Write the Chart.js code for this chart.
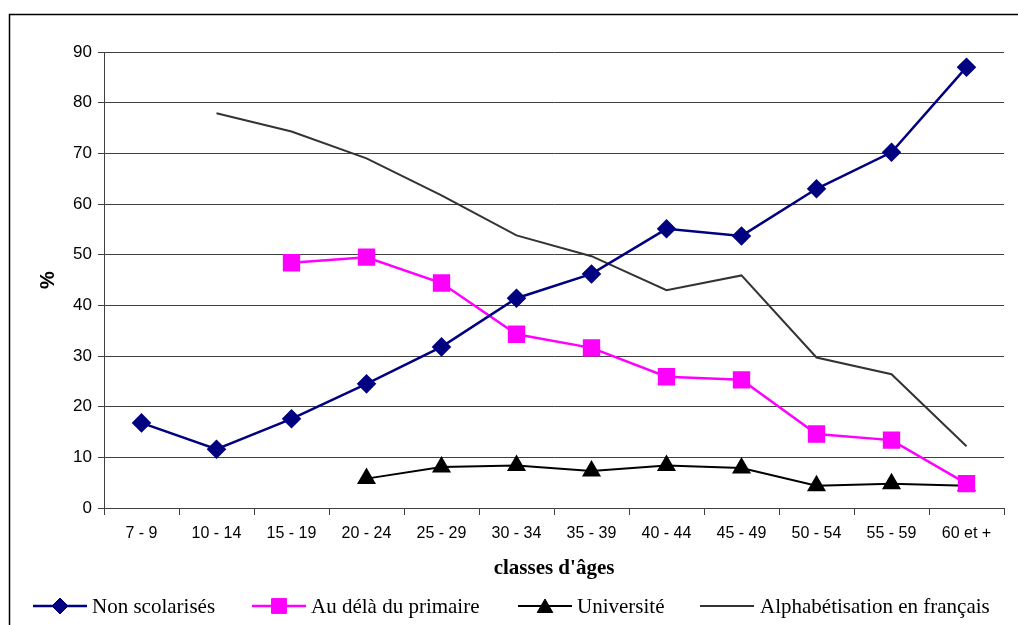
<!DOCTYPE html>
<html>
<head>
<meta charset="utf-8">
<script src="https://cdn.jsdelivr.net/npm/chart.js@4/dist/chart.umd.min.js"></script>
<style>
  body { margin: 0; background: #fff; }
  canvas { display: block; }
</style>
</head>
<body>
<canvas id="chart" width="1018" height="625"></canvas>
<script>
const ageClasses = ['7 - 9', '10 - 14', '15 - 19', '20 - 24', '25 - 29', '30 - 34', '35 - 39', '40 - 44', '45 - 49', '50 - 54', '55 - 59', '60 et +'];

const nonScolarises = [16.8, 11.6, 17.6, 24.5, 31.8, 41.4, 46.2, 55.1, 53.7, 63.0, 70.2, 87.0];
const auDelaPrimaire = [null, null, 48.4, 49.5, 44.4, 34.3, 31.6, 25.9, 25.3, 14.6, 13.4, 4.8];
const universite = [null, null, null, 5.8, 8.1, 8.4, 7.3, 8.4, 7.9, 4.4, 4.8, 4.4];
const alphabetisation = [null, 77.9, 74.3, 69.0, 61.7, 53.8, 49.7, 43.0, 45.9, 29.7, 26.4, 12.2];

// legend entry start x (line start) - layout only
const legendX = [33, 252, 518, 700];

const frame = {
    id: 'frame',
    beforeDraw(chart) {
        const c = chart.ctx;
        c.save();
        c.strokeStyle = '#000';
        c.lineWidth = 1.5;
        c.strokeRect(9.5, 14.5, 1030, 640);
        c.restore();
    }
};

const bottomLegend = {
    id: 'bottomLegend',
    afterDraw(chart) {
        const c = chart.ctx;
        const y = 606;
        chart.data.datasets.forEach((ds, i) => {
            const x0 = legendX[i];
            c.save();
            c.strokeStyle = ds.borderColor;
            c.lineWidth = ds.borderWidth;
            c.beginPath();
            c.moveTo(x0, y);
            c.lineTo(x0 + 54, y);
            c.stroke();
            if (ds.pointRadius > 0) {
                c.fillStyle = ds.pointBackgroundColor;
                c.strokeStyle = ds.pointBorderColor;
                c.lineWidth = 1;
                Chart.helpers.drawPoint(c, {pointStyle: ds.pointStyle, radius: ds.pointRadius, borderWidth: 1}, x0 + 27, ds.pointStyle === 'triangle' ? y + 2 : y);
            }
            c.fillStyle = '#000';
            c.font = '21px "Liberation Serif", "Times New Roman", serif';
            c.textBaseline = 'middle';
            c.fillText(ds.label, x0 + (i === 3 ? 60 : 59), y + 1);
            c.restore();
        });
    }
};

new Chart(document.getElementById('chart'), {
    type: 'line',
    data: {
        labels: ageClasses,
        datasets: [{
            label: 'Non scolarisés',
            data: nonScolarises,
            borderColor: '#000080',
            borderWidth: 2.5,
            pointStyle: 'rectRot',
            pointRadius: 8,
            pointBackgroundColor: '#000080',
            pointBorderColor: '#000080',
            tension: 0
        }, {
            label: 'Au délà du primaire',
            data: auDelaPrimaire,
            borderColor: '#ff00ff',
            borderWidth: 2.5,
            pointStyle: 'rect',
            pointRadius: 10.5,
            pointBackgroundColor: '#ff00ff',
            pointBorderColor: '#ff00ff',
            tension: 0
        }, {
            label: 'Université',
            data: universite,
            borderColor: '#000',
            borderWidth: 2,
            pointStyle: 'triangle',
            pointRadius: 9,
            pointBackgroundColor: '#000',
            pointBorderColor: '#000',
            tension: 0
        }, {
            label: 'Alphabétisation en français',
            data: alphabetisation,
            borderColor: '#333333',
            borderWidth: 2,
            pointRadius: 0,
            pointBackgroundColor: '#333333',
            pointBorderColor: '#333333',
            tension: 0
        }]
    },
    options: {
        responsive: false,
        animation: false,
        layout: {
            padding: { top: 52, right: 14, bottom: 42, left: 0 }
        },
        scales: {
            x: {
                offset: true,
                grid: {
                    offset: true,
                    drawOnChartArea: false,
                    tickLength: 7,
                    color: '#404040'
                },
                border: { color: '#404040', width: 1 },
                ticks: {
                    color: '#000',
                    padding: 9,
                    maxRotation: 0,
                    font: { family: '"Liberation Sans", Arial, sans-serif', size: 16 }
                },
                title: {
                    display: true,
                    text: "classes d'âges",
                    color: '#000',
                    padding: { top: 0, bottom: 2 },
                    font: { family: '"Liberation Serif", "Times New Roman", serif', size: 21, weight: 'bold' }
                },
                afterFit: (s) => { s.height = 75; }
            },
            y: {
                min: 0,
                max: 90,
                ticks: {
                    stepSize: 10,
                    color: '#000',
                    padding: 6,
                    font: { family: '"Liberation Sans", Arial, sans-serif', size: 17 }
                },
                grid: {
                    color: '#404040',
                    tickLength: 6
                },
                border: { color: '#404040', width: 1 },
                title: {
                    display: true,
                    text: '%',
                    color: '#000',
                    padding: { top: 36, bottom: 0 },
                    font: { family: '"Liberation Sans", Arial, sans-serif', size: 20, weight: 'bold' }
                },
                afterFit: (s) => { s.width = 104; }
            }
        },
        plugins: {
            legend: { display: false },
            tooltip: { enabled: false }
        }
    },
    plugins: [frame, bottomLegend]
});
</script>
</body>
</html>
